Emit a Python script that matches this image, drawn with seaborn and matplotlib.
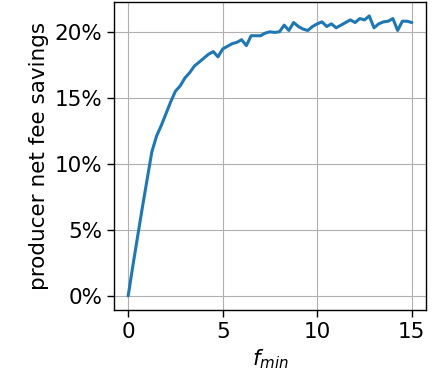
import numpy as np
import pandas as pd
import seaborn as sns
import matplotlib
matplotlib.use("Agg")
import matplotlib.pyplot as plt
from matplotlib.ticker import PercentFormatter

# minimum fee threshold values
f_min = [0.0, 0.25, 0.5, 0.75, 1.0, 1.25, 1.5, 1.75, 2.0, 2.25,
         2.5, 2.75, 3.0, 3.25, 3.5, 3.75, 4.0, 4.25, 4.5, 4.75,
         5.0, 5.25, 5.5, 5.75, 6.0, 6.25, 6.5, 6.75, 7.0, 7.25,
         7.5, 7.75, 8.0, 8.25, 8.5, 8.75, 9.0, 9.25, 9.5, 9.75,
         10.0, 10.25, 10.5, 10.75, 11.0, 11.25, 11.5, 11.75, 12.0, 12.25,
         12.5, 12.75, 13.0, 13.25, 13.5, 13.75, 14.0, 14.25, 14.5, 14.75,
         15.0]

# producer net fee savings in percent
savings = [0.0, 2.3, 4.5, 6.7, 8.8, 10.9, 12.1, 12.9, 13.8, 14.7,
           15.5, 15.9, 16.5, 16.9, 17.4, 17.7, 18.0, 18.3, 18.5, 18.1,
           18.7, 18.9, 19.1, 19.2, 19.4, 18.95, 19.7, 19.7, 19.7, 19.9,
           20.0, 19.95, 20.0, 20.5, 20.1, 20.7, 20.4, 20.2, 20.1, 20.4,
           20.6, 20.75, 20.4, 20.6, 20.3, 20.5, 20.7, 20.9, 20.7, 21.0,
           20.9, 21.2, 20.3, 20.6, 20.75, 20.8, 21.0, 20.1, 20.8, 20.8,
           20.7]

df = pd.DataFrame({"f_min": f_min, "savings": savings})

sns.set_style("ticks")
plt.rcParams["font.family"] = ["DejaVu Sans"]
plt.rcParams["text.color"] = "black"
plt.rcParams["axes.labelcolor"] = "black"
plt.rcParams["xtick.color"] = "black"
plt.rcParams["ytick.color"] = "black"

fs = 15.5
fig = plt.figure(figsize=(4.47, 3.85), dpi=100)
ax = fig.add_axes([0.255, 0.195, 0.698, 0.80])

sns.lineplot(data=df, x="f_min", y="savings", ax=ax, color="#1f77b4", linewidth=2.2)

ax.yaxis.set_major_formatter(PercentFormatter(100, decimals=0))
ax.set_xticks([0, 5, 10, 15])
ax.set_yticks([0, 5, 10, 15, 20])
ax.grid(True, color="#b0b0b0", linewidth=0.8)
ax.set_xlabel("$f_{min}$", fontsize=fs)
ax.set_ylabel("producer net fee savings", fontsize=fs)
ax.tick_params(labelsize=fs, length=5, width=1)
for s in ax.spines.values():
    s.set_color("black")
    s.set_linewidth(1.0)

fig.savefig("out.png", dpi=100)
